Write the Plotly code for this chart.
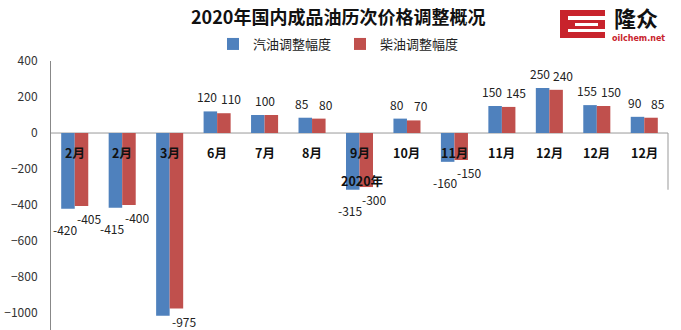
import plotly.graph_objects as go

# Price adjustments (yuan/ton) for each round in 2020
months = ["2月", "2月", "3月", "6月", "7月", "8月", "9月", "10月", "11月", "11月", "12月", "12月", "12月"]
gasoline = [-420, -415, -1015, 120, 100, 85, -315, 80, -160, 150, 250, 155, 90]
diesel = [-405, -400, -975, 110, 100, 80, -300, 70, -150, 145, 240, 150, 85]
y_ticks = [400, 200, 0, -200, -400, -600, -800, -1000]

BLUE = "#4F81BD"
RED = "#C0504D"
FONT = "Noto Sans CJK SC"

W, H = 681, 330
L, R, T, B = 51, 13, 61, 0
PW, PH = W - L - R, H - T - B
Y_RANGE = [-1094, 400]
BARGAP = 0.43
half = (1 - BARGAP) / 4  # offset of each bar centre from its group centre
px_per_unit = PH / (Y_RANGE[1] - Y_RANGE[0])
LABEL_H = 16

x = list(range(len(months)))

fig = go.Figure()
fig.add_trace(go.Bar(x=x, y=gasoline, name="汽油调整幅度", marker=dict(color=BLUE, line_width=0)))
fig.add_trace(go.Bar(x=x, y=diesel, name="柴油调整幅度", marker=dict(color=RED, line_width=0)))


def fits_below(v, shift):
    # keep a negative-value label only if it stays inside the plot area
    return (v - Y_RANGE[0]) * px_per_unit - shift - LABEL_H >= 0


ann = []
# value labels
for i, (g, d) in enumerate(zip(gasoline, diesel)):
    same = g == d
    for v, off, is_blue in ((g, -half, True), (d, half, False)):
        if same and not is_blue:
            continue
        xpos = i if same else i + off
        if v >= 0:
            ann.append(dict(x=xpos, y=v, text=str(v), showarrow=False, yanchor="bottom",
                            yshift=4, xshift=0 if same else (-3 if is_blue else 7),
                            font=dict(size=12, color="#222", family=FONT)))
        else:
            shift = 10 if is_blue else 2
            if not fits_below(v, shift):
                continue
            ann.append(dict(x=xpos, y=v, text=str(v), showarrow=False, yanchor="top",
                            yshift=-shift, xshift=-3 if is_blue else 8,
                            font=dict(size=12, color="#222", family=FONT)))

# month labels just under the zero line
for i, m in enumerate(months):
    ann.append(dict(x=i, y=0, text="<b>%s</b>" % m, showarrow=False, yanchor="top", yshift=-8,
                    font=dict(size=12.5, color="#111", family=FONT)))
ann.append(dict(x=months.index("9月"), y=0, text="<b>2020年</b>", showarrow=False, yanchor="top",
                yshift=-36, xshift=2, font=dict(size=12.5, color="#111", family=FONT)))


def px(xp):
    return (xp - L) / PW


def py(yp):
    return (H - B - yp) / PH


# title
ann.append(dict(xref="paper", yref="paper", x=px(338), y=py(16),
                text="<b>2020年国内成品油历次价格调整概况</b>", showarrow=False,
                xanchor="center", yanchor="middle",
                font=dict(size=18, color="#111", family=FONT)))

# logo text
ann.append(dict(xref="paper", yref="paper", x=px(636), y=py(17), text="<b>隆众</b>",
                showarrow=False, xanchor="center", yanchor="middle",
                font=dict(size=22, color="#111", family=FONT)))
ann.append(dict(xref="paper", yref="paper", x=px(638), y=py(38), text="<b>oilchem.net</b>",
                showarrow=False, xanchor="center", yanchor="middle",
                font=dict(size=8, color="#C8232C", family="DejaVu Sans")))

shapes = [
    # logo mark
    dict(type="rect", xref="paper", yref="paper", x0=px(560), x1=px(605), y0=py(38), y1=py(10),
         fillcolor="#C8232C", line_width=0),
    dict(type="rect", xref="paper", yref="paper", x0=px(568), x1=px(605), y0=py(20), y1=py(16),
         fillcolor="white", line_width=0),
    dict(type="rect", xref="paper", yref="paper", x0=px(575), x1=px(598), y0=py(26), y1=py(23),
         fillcolor="white", line_width=0),
    dict(type="rect", xref="paper", yref="paper", x0=px(568), x1=px(605), y0=py(32), y1=py(29),
         fillcolor="white", line_width=0),
    # zero line and right edge
    dict(type="line", xref="paper", yref="y", x0=0, x1=1, y0=0, y1=0,
         line=dict(color="#999", width=1), layer="below"),
    dict(type="line", xref="paper", yref="y", x0=1, x1=1, y0=0, y1=-315,
         line=dict(color="#999", width=1), layer="below"),
]

fig.update_layout(
    width=W, height=H,
    margin=dict(l=L, r=R, t=T, b=B, pad=0, autoexpand=False),
    paper_bgcolor="white", plot_bgcolor="white",
    barmode="group", bargap=BARGAP, bargroupgap=0,
    font=dict(family=FONT, size=12, color="#333"),
    showlegend=True,
    legend=dict(orientation="h", xref="container", yref="container",
                x=213 / W, y=1 - 44 / H, xanchor="left", yanchor="middle",
                entrywidth=82, entrywidthmode="pixels", itemwidth=30,
                font=dict(size=13, color="#222", family=FONT),
                bgcolor="rgba(0,0,0,0)", tracegroupgap=0),
    xaxis=dict(range=[-0.5, len(months) - 0.5], showticklabels=False, showgrid=False,
               zeroline=False, showline=False, ticks=""),
    yaxis=dict(range=Y_RANGE, tickvals=y_ticks, showgrid=False, zeroline=False,
               showline=True, linecolor="#888", linewidth=1, ticks="",
               ticklabelstandoff=10, tickfont=dict(size=12, color="#333", family=FONT)),
    annotations=ann,
    shapes=shapes,
)

fig.write_html("out.html")
